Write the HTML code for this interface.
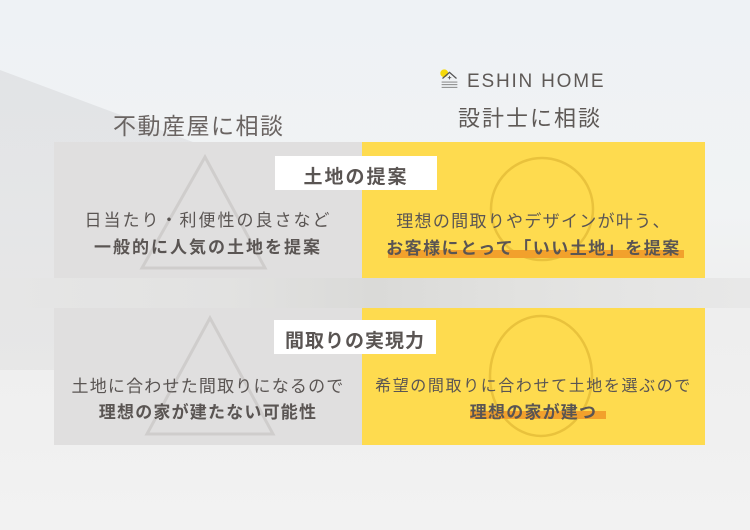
<!DOCTYPE html>
<html><head><meta charset="utf-8"><style>
body{margin:0;width:750px;height:530px;overflow:hidden;position:relative;font-family:"Liberation Sans","Noto Sans CJK JP",sans-serif;background:linear-gradient(180deg,#eef2f5 0%,#f1f3f4 40%,#eeeeee 60%,#f2f2f2 100%);}
.a{position:absolute}
.t{position:absolute;white-space:nowrap;color:#5a5553;}
</style></head><body>
<div class="a" style="left:0;top:70px;width:225px;height:300px;background:linear-gradient(180deg,#dcdde0,#e4e4e4);opacity:.7;clip-path:polygon(0 0,100% 28%,100% 100%,0 100%)"></div>
<div class="a" style="left:0;top:278px;width:750px;height:30px;background:linear-gradient(90deg,#e6e6e6 0%,#e2e2e1 30%,#dadad8 50%,#e2e2e0 70%,#e8e8e8 100%)"></div>

<div class="t" style="left:113px;top:107px;font-size:23px;letter-spacing:1.5px;color:#6a6462">不動産屋に相談</div>
<svg class="a" style="left:439px;top:68px" width="21" height="21" viewBox="0 0 24 24"><circle cx="6" cy="6" r="4.5" fill="#f5d90a"/><path d="M4 12 L12 5 L20 12" fill="none" stroke="#555" stroke-width="1.4"/><path d="M12 9v4M10 11h4" stroke="#555" stroke-width="1"/><path d="M3 16h18M3 19h18M3 22h18" stroke="#777" stroke-width="1"/></svg>
<div class="t" style="left:467px;top:71px;font-size:19px;letter-spacing:1.8px;color:#5e5956">ESHIN HOME</div>
<div class="t" style="left:458px;top:101px;font-size:22px;letter-spacing:2px;color:#5e5956">設計士に相談</div>

<div class="a" style="left:54px;top:142px;width:308px;height:136px;background:#e0dfdf"></div>
<div class="a" style="left:362px;top:142px;width:343px;height:136px;background:#fedb4f"></div>
<div class="a" style="left:54px;top:308px;width:308px;height:137px;background:#e0dfdf"></div>
<div class="a" style="left:362px;top:308px;width:343px;height:137px;background:#fedb4f"></div>

<svg class="a" style="left:0;top:0" width="750" height="530">
<polygon points="205,157 142,268 265,268" fill="none" stroke="#cfcdcc" stroke-width="3"/>
<circle cx="542" cy="209" r="51" fill="none" stroke="#e9c23c" stroke-width="2.5"/>
<polygon points="210,318 147,434 273,434" fill="none" stroke="#cfcdcc" stroke-width="3"/>
<ellipse cx="541" cy="376" rx="51" ry="60" fill="none" stroke="#e9c23c" stroke-width="2.5"/>
<rect x="388" y="250" width="296" height="8" fill="#f2a12c"/>
<rect x="470" y="411" width="136" height="8" fill="#f2a12c"/>
</svg>

<div class="a" style="left:275px;top:156px;width:162px;height:34px;background:#fff"></div>
<div class="t" style="left:275px;top:162px;width:162px;text-align:center;font-size:19px;font-weight:bold;letter-spacing:2px">土地の提案</div>
<div class="a" style="left:274px;top:320px;width:162px;height:34px;background:#fff"></div>
<div class="t" style="left:274px;top:326px;width:162px;text-align:center;font-size:19px;font-weight:bold;letter-spacing:1px">間取りの実現力</div>

<div class="t" style="left:54px;top:206px;width:308px;text-align:center;font-size:17px;letter-spacing:2px">日当たり・利便性の良さなど</div>
<div class="t" style="left:54px;top:233px;width:308px;text-align:center;font-size:17px;font-weight:bold;letter-spacing:2px">一般的に人気の土地を提案</div>
<div class="t" style="left:362px;top:207px;width:343px;text-align:center;font-size:17px;letter-spacing:1.3px">理想の間取りやデザインが叶う、</div>
<div class="t" style="left:362px;top:234px;width:343px;text-align:center;font-size:17px;font-weight:bold;letter-spacing:1.5px">お客様にとって「いい土地」を提案</div>

<div class="t" style="left:54px;top:372px;width:308px;text-align:center;font-size:17px;letter-spacing:1.2px">土地に合わせた間取りになるので</div>
<div class="t" style="left:54px;top:398px;width:308px;text-align:center;font-size:17px;font-weight:bold;letter-spacing:1.2px">理想の家が建たない可能性</div>
<div class="t" style="left:362px;top:372px;width:343px;text-align:center;font-size:16px;letter-spacing:1.6px">希望の間取りに合わせて土地を選ぶので</div>
<div class="t" style="left:362px;top:398px;width:343px;text-align:center;font-size:17px;font-weight:bold;letter-spacing:1.2px">理想の家が建つ</div>
</body></html>
